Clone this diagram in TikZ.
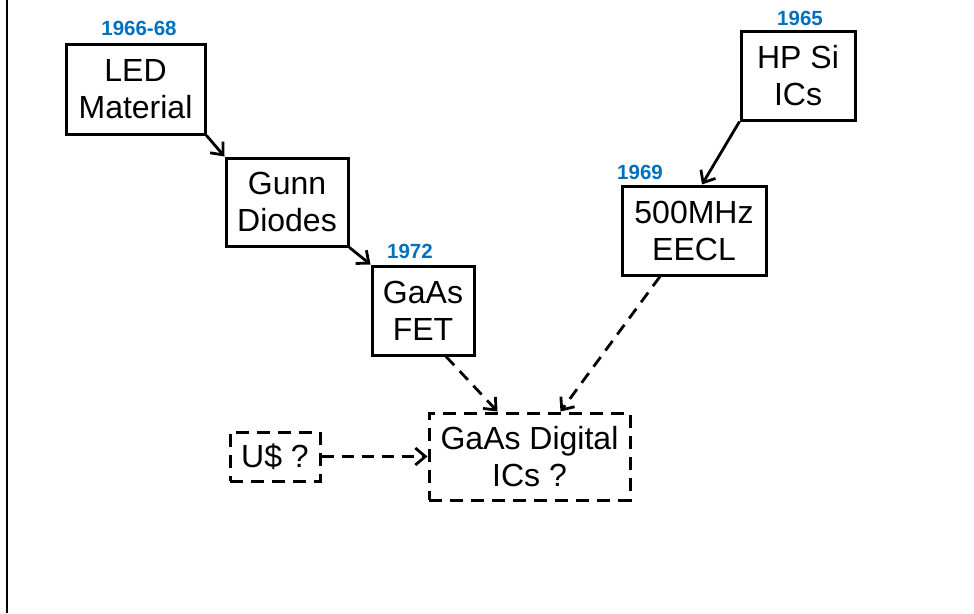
\documentclass[tikz,border=0pt]{standalone}
\usepackage{fontspec}
\setmainfont{Liberation Sans}
\usetikzlibrary{arrows.meta}
\definecolor{yearblue}{HTML}{0070C0}
\begin{document}
\begin{tikzpicture}[x=1pt,y=-1pt,
  box/.style={draw=black,line width=3pt,inner sep=0pt,align=center,
    font=\fontsize{32}{37}\selectfont},
  dbox/.style={box,dash pattern=on 13pt off 8pt},
  year/.style={text=yearblue,font=\bfseries\fontsize{20.5}{24}\selectfont},
  link/.style={line width=2.8pt,-{Straight Barb[length=10pt,width=17pt,line width=2.8pt]}},
  dlink/.style={link,dash pattern=on 12pt off 8pt}]
  \fill[white] (0,0) rectangle (974,613);
  \useasboundingbox (0,0) rectangle (974,613);
  % left frame edge
  \draw[line width=2.6pt] (7,0) -- (7,613);

  % boxes
  \node[box,minimum width=139pt,minimum height=90pt] (led) at (135.5,89) {LED\\Material};
  \node[box,minimum width=122pt,minimum height=88pt] (gunn) at (287,202) {Gunn\\Diodes};
  \node[box,minimum width=102pt,minimum height=89pt] (fet) at (423,310.5) {GaAs\\FET};
  \node[box,minimum width=114pt,minimum height=89pt] (hp) at (798,75.5) {HP Si\\ICs};
  \node[box,minimum width=144pt,minimum height=89pt] (eecl) at (694,230.5) {500MHz\\EECL};
  \node[dbox,minimum width=201pt,minimum height=87pt] (dig) at (529.5,456.5) {GaAs Digital\\ICs ?};
  \node[dbox,minimum width=90pt,minimum height=49pt] (us) at (275,456.5) {U\$ ?};

  % years
  \node[year] (yled) at (139,28) {1966-68};
  \node[year] (yfet) at (410,251) {1972};
  \node[year] (yhp) at (800,18) {1965};
  \node[year] (yeecl) at (640,172) {1969};

  % connectors
  \draw[link] (led.south east) -- (gunn.north west);
  \draw[link] (gunn.south east) -- (fet.north west);
  \draw[link] (hp.south west) -- ([xshift=8pt]eecl.north);
  \draw[dlink] ([xshift=23pt]fet.south) -- ([xshift=-32pt]dig.north);
  \draw[dlink] ([xshift=-34pt]eecl.south) -- ([xshift=31pt]dig.north);
  \draw[dlink] (us.east) -- (dig.west);
\end{tikzpicture}
\end{document}
